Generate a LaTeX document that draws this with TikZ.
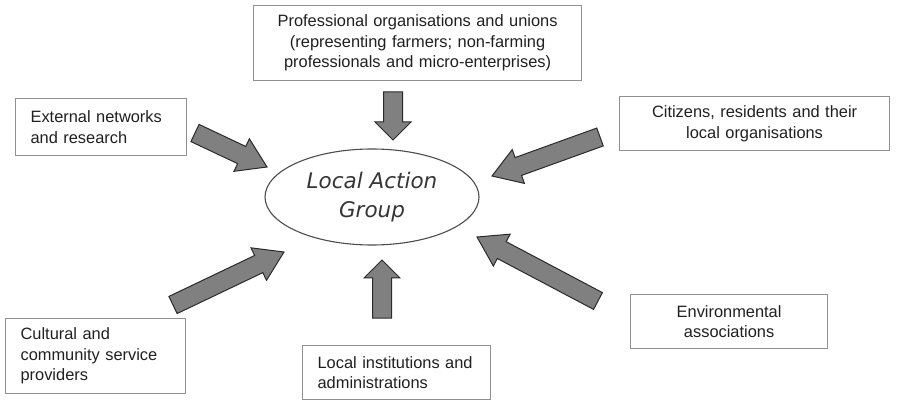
\documentclass[tikz,border=0pt]{standalone}
\usepackage{fontspec}
\setmainfont{Liberation Sans}
\newfontfamily\lagfont{DejaVu Sans}
\usetikzlibrary{calc,shapes.geometric}
\definecolor{boxgray}{HTML}{909090}
\definecolor{txt}{HTML}{202020}
\definecolor{arrfill}{HTML}{808080}
\definecolor{arrdraw}{HTML}{2A2A2A}
\newcommand\blkarrow[3]{%
  \coordinate (hb) at ($(#2)!#3pt!(#1)$);
  \filldraw[blockarr] ($(#1)!9.5pt!90:(#2)$) -- ($(hb)!9.5pt!-90:(#1)$) -- ($(hb)!18pt!-90:(#1)$) -- (#2)
    -- ($(hb)!18pt!90:(#1)$) -- ($(hb)!9.5pt!90:(#1)$) -- ($(#1)!9.5pt!-90:(#2)$) -- cycle;}
\begin{document}
\begin{tikzpicture}[x=1pt,y=-1pt,
  box/.style={draw=boxgray, line width=1.2pt, text=txt, anchor=north west,
    font=\fontsize{16.4}{20.5}\selectfont},
  lbox/.style={box, inner xsep=15pt, align=left},
  cbox/.style={box, inner xsep=5pt, align=center},
  blockarr/.style={fill=arrfill, draw=arrdraw, line width=1pt, line join=miter},
  lag/.style={draw=txt!80, line width=1.1pt, ellipse, inner sep=0pt, text=txt!90,
    minimum width=214pt, minimum height=96pt,
    font=\lagfont\itshape\fontsize{21.5}{29}\selectfont, align=center}]
\useasboundingbox (0,0) rectangle (902,403);
\fill[white] (0,0) rectangle (902,403);

% boxes
\node[cbox, minimum width=328pt, minimum height=75pt, text width=318pt] (prof) at (253,5)
  {Professional organisations and unions\\(representing farmers; non-farming\\professionals and micro-enterprises)};
\node[lbox, minimum width=171pt, minimum height=57pt, text width=141pt] (ext) at (15,98)
  {External networks\\and research};
\node[cbox, minimum width=270pt, minimum height=54pt, text width=260pt] (cit) at (619,96)
  {Citizens, residents and their\\local organisations};
\node[lbox, minimum width=180pt, minimum height=75pt, text width=150pt] (cult) at (5,318)
  {Cultural and\\community service\\providers};
\node[lbox, minimum width=188pt, minimum height=54pt, text width=158pt] (inst) at (302,345)
  {Local institutions and\\administrations};
\node[cbox, minimum width=197pt, minimum height=54pt, text width=187pt] (env) at (630,294)
  {Environmental\\associations};

% central ellipse
\node[lag] (lag) at (372,197) {Local Action\\Group};

% block arrows
\coordinate (a1t) at (195,133); \coordinate (a1h) at (267,167);
\coordinate (a2t) at (393,92);  \coordinate (a2h) at (393,140);
\coordinate (a3t) at (600,137); \coordinate (a3h) at (492,176);
\coordinate (a4t) at (173,305); \coordinate (a4h) at (284,252);
\coordinate (a5t) at (382,318); \coordinate (a5h) at (382,260);
\coordinate (a6t) at (598,301); \coordinate (a6h) at (477,237);
\blkarrow{a1t}{a1h}{28}
\blkarrow{a2t}{a2h}{18}
\blkarrow{a3t}{a3h}{28}
\blkarrow{a4t}{a4h}{28}
\blkarrow{a5t}{a5h}{18}
\blkarrow{a6t}{a6h}{28}
\end{tikzpicture}
\end{document}
